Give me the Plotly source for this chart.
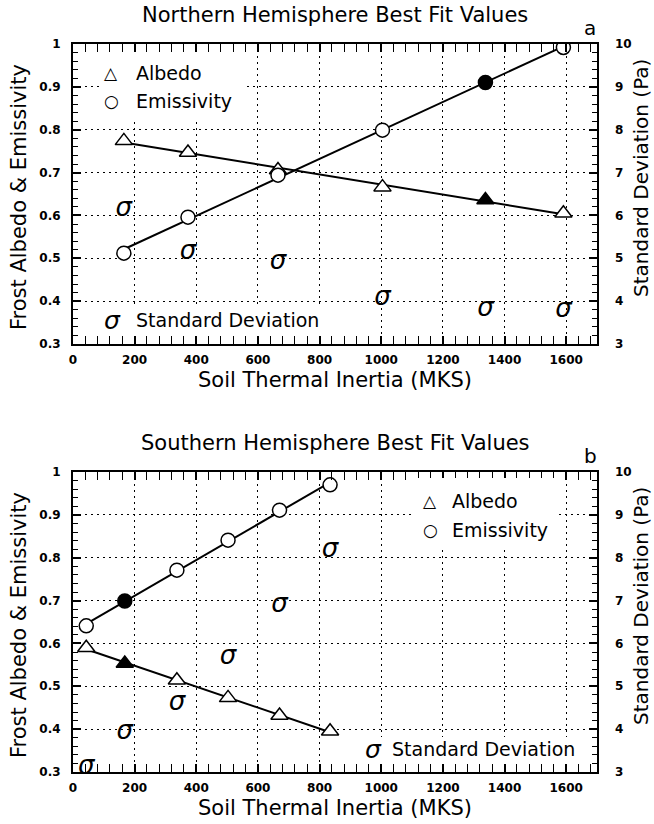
import numpy as np
import plotly.graph_objects as go
from plotly.subplots import make_subplots

# ---------------- data ----------------
# Panel a: Northern Hemisphere
north_inertia = [165, 373, 665, 1004, 1338, 1591]
north_albedo = [0.774, 0.747, 0.706, 0.666, 0.636, 0.605]
north_emissivity = [0.512, 0.596, 0.694, 0.799, 0.910, 0.992]
north_sigma = [6.13, 5.14, 4.91, 4.07, 3.80, 3.78]
north_best = 4

# Panel b: Southern Hemisphere
south_inertia = [43, 168, 337, 503, 670, 834]
south_albedo = [0.590, 0.553, 0.514, 0.473, 0.432, 0.395]
south_emissivity = [0.641, 0.699, 0.771, 0.841, 0.911, 0.970]
south_sigma = [3.10, 3.93, 4.60, 5.68, 6.89, 8.17]
south_best = 1

x_ticks = [0, 200, 400, 600, 800, 1000, 1200, 1400, 1600]
y_ticks = [0.3, 0.4, 0.5, 0.6, 0.7, 0.8, 0.9, 1.0]
y_ticktext = ["0.3", "0.4", "0.5", "0.6", "0.7", "0.8", "0.9", "1"]
sd_ticks = [3, 4, 5, 6, 7, 8, 9, 10]

# ---------------- layout geometry ----------------
W, H = 654, 824
L, R, T, B = 73, 57, 44, 52
PW, PH = W - L - R, H - T - B
PANEL_H = 300
top_dom = [1 - PANEL_H / PH, 1.0]
bot_dom = [0.0, PANEL_H / PH]


def px(x):
    return (x - L) / PW


def py(y):
    return (H - B - y) / PH


FONT = "DejaVu Sans"

fig = make_subplots(rows=2, cols=1, specs=[[{"secondary_y": True}], [{"secondary_y": True}]])


def fit_line(x, y):
    k, b = np.polyfit(x, y, 1)
    xs = [x[0], x[-1]]
    return xs, [k * v + b for v in xs]


def add_panel(row, xs, alb, emi, sig, best):
    for ys in (alb, emi):
        lx, ly = fit_line(xs, ys)
        fig.add_trace(go.Scatter(x=lx, y=ly, mode="lines", line=dict(color="black", width=2),
                                 showlegend=False, hoverinfo="skip"), row=row, col=1, secondary_y=False)
    for ys, sym, size in ((alb, "triangle-up", 15), (emi, "circle", 14)):
        colors = ["black" if i == best else "white" for i in range(len(xs))]
        fig.add_trace(go.Scatter(x=xs, y=ys, mode="markers",
                                 marker=dict(symbol=sym, size=size, color=colors,
                                             line=dict(color="black", width=1.5)),
                                 showlegend=False), row=row, col=1, secondary_y=False)
    fig.add_trace(go.Scatter(x=xs, y=sig, mode="text", text=["σ"] * len(xs),
                             textposition="middle center",
                             textfont=dict(family=FONT, size=26, style="italic", color="black"),
                             showlegend=False), row=row, col=1, secondary_y=True)


add_panel(1, north_inertia, north_albedo, north_emissivity, north_sigma, north_best)
add_panel(2, south_inertia, south_albedo, south_emissivity, south_sigma, south_best)

tickfont = dict(family=FONT, size=12, weight="bold", color="black")
xax = dict(range=[0, 1700], tickvals=x_ticks, ticks="inside", ticklen=8, tickwidth=1.5,
           tickcolor="black", showline=True, linewidth=2, linecolor="black", mirror="allticks",
           showgrid=True, gridcolor="black", gridwidth=1.2, griddash="2px,4px", zeroline=False,
           minor=dict(dtick=40, ticks="inside", ticklen=5, tickwidth=1.2, tickcolor="black", showgrid=False),
           tickfont=tickfont, ticklabelstandoff=4)
yax = dict(range=[0.3, 1.0], tickvals=y_ticks, ticktext=y_ticktext, ticks="inside", ticklen=8,
           tickwidth=1.5, tickcolor="black", showline=True, linewidth=2, linecolor="black",
           mirror="allticks", showgrid=True, gridcolor="black", gridwidth=1.2, griddash="2px,4px",
           zeroline=False,
           minor=dict(dtick=0.02, ticks="inside", ticklen=5, tickwidth=1.2, tickcolor="black", showgrid=False),
           tickfont=tickfont, ticklabelstandoff=8)
y2ax = dict(range=[3, 10], tickvals=sd_ticks, ticks="", showline=False, showgrid=False,
            zeroline=False, tickfont=tickfont, ticklabelstandoff=17)

fig.update_layout(
    xaxis=dict(**xax, domain=[0, 1], anchor="y"),
    xaxis2=dict(**xax, domain=[0, 1], anchor="y3"),
    yaxis=dict(**yax, domain=top_dom, anchor="x"),
    yaxis2=dict(**y2ax, domain=top_dom, anchor="x", overlaying="y", side="right"),
    yaxis3=dict(**yax, domain=bot_dom, anchor="x2"),
    yaxis4=dict(**y2ax, domain=bot_dom, anchor="x2", overlaying="y3", side="right"),
)

annotations = []


def text(x, y, s, size=21, xanchor="center", angle=0, bg=None, italic=False):
    a = dict(x=px(x), y=py(y), xref="paper", yref="paper", text=s, showarrow=False,
             xanchor=xanchor, yanchor="middle", textangle=angle,
             font=dict(family=FONT, size=size, color="black", style="italic" if italic else "normal"))
    if bg:
        a.update(bgcolor=bg, borderpad=0)
    annotations.append(a)


def mask(x0, y0, x1, y1):
    annotations.append(dict(x=px(x0), y=py(y0), xref="paper", yref="paper", text=" ",
                            showarrow=False, xanchor="left", yanchor="top", width=x1 - x0,
                            height=y1 - y0, bgcolor="white", borderpad=0, borderwidth=0,
                            font=dict(size=1)))


# masks behind legends
mask(100, 53, 245, 120)
mask(100, 306, 322, 334)
mask(412, 478, 558, 547)
mask(362, 737, 577, 762)

panels = [
    dict(top=44, title="Northern Hemisphere Best Fit Values", tag="a"),
    dict(top=472, title="Southern Hemisphere Best Fit Values", tag="b"),
]
for p in panels:
    t = p["top"]
    text(335, t - 29, p["title"], size=21)
    text(590, t - 16, p["tag"], size=20)
    text(335, t + 336, "Soil Thermal Inertia (MKS)", size=21)
    text(19, t + 153, "Frost Albedo &amp; Emissivity", size=21, angle=-90)
    text(641, t + 134, "Standard Deviation (Pa)", size=20, angle=-90)

# legends panel a
text(111, 73, "△", size=17)
text(134, 73, "Albedo", size=19, xanchor="left")
text(111, 101, "○", size=17)
text(134, 101, "Emissivity", size=19, xanchor="left")
text(112, 320, "σ", size=25, italic=True)
text(134, 320, "Standard Deviation", size=19, xanchor="left")
# legends panel b
text(430, 501, "△", size=17)
text(450, 501, "Albedo", size=19, xanchor="left")
text(430, 530, "○", size=17)
text(450, 530, "Emissivity", size=19, xanchor="left")
text(373, 749, "σ", size=25, italic=True)
text(390, 749, "Standard Deviation", size=19, xanchor="left")

fig.update_layout(
    width=W, height=H, margin=dict(l=L, r=R, t=T, b=B, autoexpand=False),
    paper_bgcolor="white", plot_bgcolor="white", showlegend=False,
    annotations=annotations, font=dict(family=FONT, color="black"),
)

fig.write_html("out.html")
